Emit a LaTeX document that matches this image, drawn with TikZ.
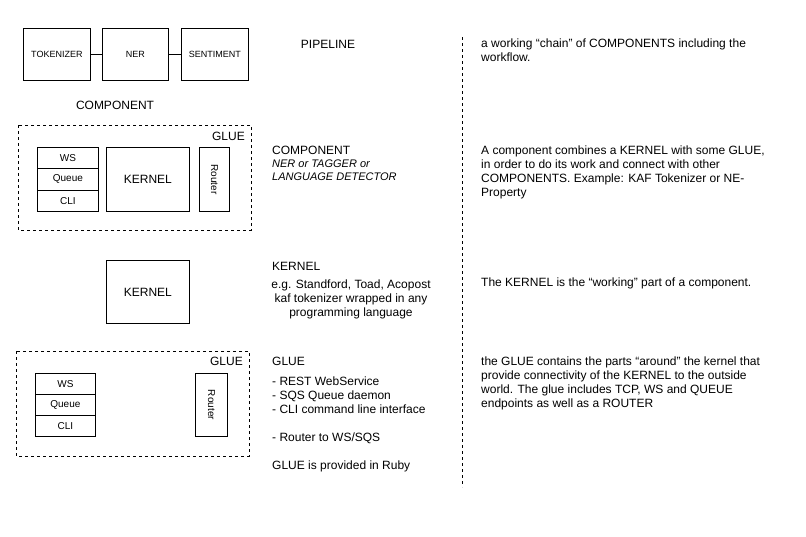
\documentclass[tikz,border=0pt]{standalone}
\usepackage{fontspec}
\setmainfont{Liberation Sans}
\begin{document}
\begin{tikzpicture}[x=1pt,y=-1pt,
  box/.style={draw,line width=0.8pt,inner sep=0pt,anchor=north west},
  dbox/.style={draw,line width=0.8pt,dash pattern=on 3pt off 3pt},
  conn/.style={line width=0.8pt},
  sm/.style={font=\fontsize{9}{11}\selectfont},
  md/.style={font=\fontsize{10}{12}\selectfont},
  lg/.style={font=\fontsize{12}{14}\selectfont},
  txt/.style={lg,inner sep=0pt,anchor=north west,align=left}]
\useasboundingbox (0,0) rectangle (806,536);
% pipeline
\node[box,sm,minimum width=67pt,minimum height=52pt] (tok) at (23,28) {TOKENIZER};
\node[box,sm,minimum width=66pt,minimum height=52pt] (ner) at (102,28) {NER};
\node[box,sm,minimum width=67pt,minimum height=52pt] (sen) at (181,28) {SENTIMENT};
\draw[conn] (tok) -- (ner);
\draw[conn] (ner) -- (sen);
\node[lg,inner sep=0pt] (pl) at (328,44.5) {PIPELINE};
\node[lg,inner sep=0pt] (cl) at (115,105.5) {COMPONENT};
% component
\draw[dbox] (18,125) rectangle (251,230);
\node[lg,inner sep=0pt,anchor=east] (g1) at (245,136.5) {GLUE};
\node[box,md,minimum width=61pt,minimum height=21.33pt] (ws1) at (37,147) {WS};
\node[box,md,minimum width=61pt,minimum height=21.33pt] (q1) at (37,168.33) {Queue};
\node[box,md,minimum width=61pt,minimum height=21.33pt] (c1) at (37,189.67) {CLI};
\node[box,lg,minimum width=83pt,minimum height=64pt] (k1) at (106,147) {KERNEL};
\node[box,minimum width=30pt,minimum height=64pt] (r1) at (199,147) {};
\node[md,rotate=-90] at (r1.center) {Router};
% kernel
\node[box,lg,minimum width=83pt,minimum height=63pt] (k2) at (106,260) {KERNEL};
% glue
\draw[dbox] (16,351) rectangle (249,456);
\node[lg,inner sep=0pt,anchor=east] (g2) at (243,361.5) {GLUE};
\node[box,md,minimum width=60pt,minimum height=21pt] (ws2) at (35,373) {WS};
\node[box,md,minimum width=60pt,minimum height=21pt] (q2) at (35,394) {Queue};
\node[box,md,minimum width=60pt,minimum height=21pt] (c2) at (35,415) {CLI};
\node[box,minimum width=32pt,minimum height=63pt] (r2) at (195,373) {};
\node[md,rotate=-90] at (r2.center) {Router};
% middle texts
\node[txt] (t1) at (272,146) {COMPONENT\\[-1pt]{\fontsize{11}{13}\selectfont\itshape NER or TAGGER or}\\[-1pt]{\fontsize{11}{13}\selectfont\itshape LANGUAGE DETECTOR}};
\node[txt] (t2) at (272,262.5) {KERNEL};
\node[lg,inner sep=0pt,anchor=north,align=center] (t3) at (351,279.5) {e.g. Standford, Toad, Acopost\\kaf tokenizer wrapped in any\\programming language};
\node[txt] (t4) at (272,357) {GLUE};
\node[txt] (t5) at (272,376.5) {- REST WebService\\- SQS Queue daemon\\- CLI command line interface\\[14pt]- Router to WS/SQS\\[14pt]GLUE is provided in Ruby};
% divider
\coordinate (d1) at (462,37);
\coordinate (d2) at (462,487);
\draw[dbox] (d1) -- (d2);
% right texts
\node[txt] (r1t) at (481,39) {a working “chain” of COMPONENTS including the\\workflow.};
\node[txt] (r2t) at (481,146) {A component combines a KERNEL with some GLUE,\\in order to do its work and connect with other\\COMPONENTS. Example: KAF Tokenizer or NE-\\Property};
\node[txt] (r3t) at (481,277.5) {The KERNEL is the “working” part of a component.};
\node[txt] (r4t) at (481,357) {the GLUE contains the parts “around” the kernel that\\provide connectivity of the KERNEL to the outside\\world. The glue includes TCP, WS and QUEUE\\endpoints as well as a ROUTER};
\end{tikzpicture}
\end{document}
